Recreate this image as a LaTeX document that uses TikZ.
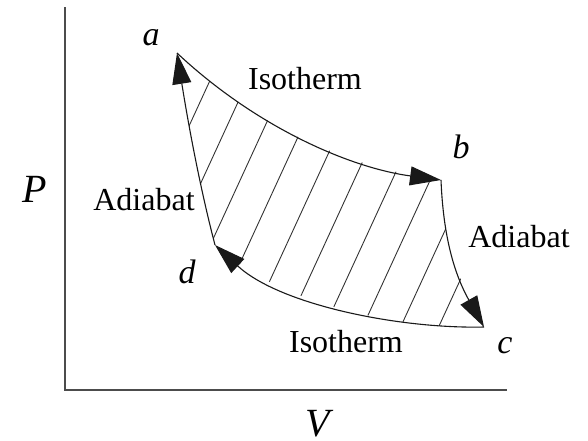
\documentclass[tikz,border=0pt]{standalone}
\usepackage{fontspec}
\setmainfont{Liberation Serif}
\usetikzlibrary{arrows.meta}
\begin{document}
\begin{tikzpicture}[x=1pt,y=-1pt,
  curve/.style={line width=1.1pt, black!90},
  arr/.style={curve, -{Triangle[length=31pt,width=19pt]}},
  hatch/.style={line width=0.9pt, black!80},
  axis/.style={line width=2pt, black!70},
  lbl/.style={font=\fontsize{32}{36}\selectfont, anchor=base, inner sep=0pt},
  pt/.style={font=\fontsize{34}{38}\selectfont\itshape, anchor=base, inner sep=0pt},
  axlbl/.style={font=\fontsize{40}{44}\selectfont\itshape, anchor=base, inner sep=0pt}]
\useasboundingbox (0,0) rectangle (588,440);
% corners
\coordinate (A) at (177,53);
\coordinate (B) at (441,180);
\coordinate (C) at (484,327);
\coordinate (D) at (215,245);
\coordinate (O) at (65,390);
\coordinate (Ytop) at (65,7);
\coordinate (Xend) at (507,390);
% axes
\draw[axis] (Ytop) -- (O) -- (Xend);
% hatching
\begin{scope}
  \clip (A) .. controls (257,128) and (351,168) .. (B)
        .. controls (443,230) and (452,270) .. (C)
        .. controls (400,329) and (280,305) .. (D)
        .. controls (198,180) and (186,110) .. (A) -- cycle;
  \foreach \u in {247,285,323,361,399,437,475,513,551,589}
    \draw[hatch] (\u,0) -- ({\u-184},400);
\end{scope}
% cycle
\draw[arr] (A) .. controls (257,128) and (351,168) .. (B);
\draw[arr] (B) .. controls (443,230) and (452,270) .. (C);
\draw[arr] (C) .. controls (400,329) and (280,305) .. (D);
\draw[arr] (D) .. controls (198,180) and (186,110) .. (A);
% labels
\node[pt] (la) at (151,45) {a};
\node[pt] (lb) at (461,158) {b};
\node[pt] (lc) at (505,353) {c};
\node[pt] (ld) at (187,283) {d};
\node[axlbl] (lP) at (35,202) {P};
\node[axlbl] (lV) at (318,436) {V};
\node[lbl] (iso1) at (305,89) {Isotherm};
\node[lbl] (iso2) at (346,352) {Isotherm};
\node[lbl] (ad1) at (144,210) {Adiabat};
\node[lbl] (ad2) at (519,247) {Adiabat};
\end{tikzpicture}
\end{document}
